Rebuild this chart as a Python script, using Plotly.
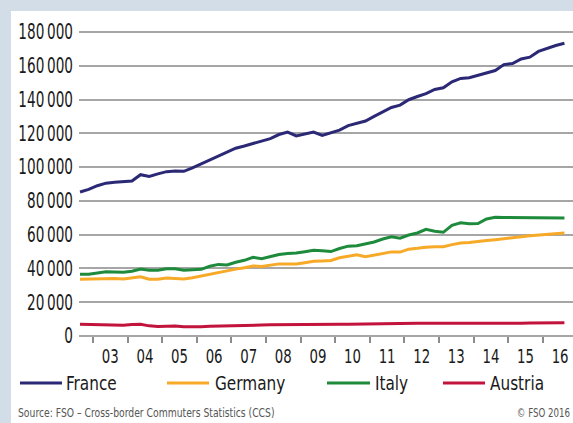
import plotly.graph_objects as go

# Quarterly data, 2002 Q3 .. 2016 Q3
start_year = 2002
start_quarter = 3
france = [85300, 86800, 89000, 90500, 91000, 91300, 91800, 95500, 94500, 96000,
          97300, 97700, 97500, 99500, 101800, 104000, 106200, 108800, 111200, 112500,
          114000, 115600, 116900, 119300, 120700, 118500, 119600, 120700, 118800, 120300,
          121900, 124600, 126000, 127300, 130000, 132800, 135300, 136700, 139900, 141800,
          143500, 146000, 147000, 150500, 152500, 152900, 154300, 155600, 157200, 160700,
          161300, 164000, 165100, 168500, 170400, 172000, 173300]
germany = [33600, 33700, 34000, 34200, 34000, 33700, 34200, 35100, 33600, 33600,
           34300, 34100, 33700, 34500, 35600, 36600, 37700, 38600, 39600, 40400,
           41500, 41200, 41800, 42700, 42700, 42600, 43400, 44200, 44400, 44700,
           46300, 47200, 48100, 46900, 47800, 48500, 49800, 49700, 51400, 51900,
           52600, 52800, 52900, 54100, 55100, 55300, 55700, 56500, 57000, 57700,
           58300, 58800, 59300, 59800, 60200, 60600, 61000]
italy = [36600, 36600, 37300, 38000, 37900, 37800, 38300, 39600, 39000, 38900,
         39800, 39800, 38900, 39000, 39500, 41300, 42400, 42100, 43700, 44800,
         46600, 45800, 47200, 48300, 48900, 49100, 49900, 50700, 50500, 50000,
         51800, 53200, 53500, 54400, 55700, 57400, 58700, 57900, 59800, 61000,
         63200, 62000, 61400, 65500, 67000, 66400, 66600, 69300, 70300, 70200,
         70200, 70100, 70100, 70000, 70000, 69900, 69900]
austria = [6900, 6800, 6700, 6600, 6500, 6300, 6800, 7000, 6000, 5600,
           5700, 5900, 5500, 5300, 5500, 5700, 5900, 6100, 6200, 6300,
           6400, 6500, 6600, 6700, 6700, 6800, 6800, 6900, 6900, 6900,
           7000, 7000, 7100, 7100, 7400, 7600, 7700, 7700, 7700, 7600,
           7600, 7600, 7500, 7500, 7600, 7200, 7300, 7400, 7400, 7500,
           7600, 7600, 7700, 7700, 7800, 7800, 7900]

series_names = ["France", "Germany", "Italy", "Austria"]
series_colors = ["#2b2876", "#f7a928", "#1e8b3c", "#c1133b"]
y_tickvals = [0, 20000, 40000, 60000, 80000, 100000, 120000, 140000, 160000, 180000]
y_ticktext = ["0", "20\u2009000", "40\u2009000", "60\u2009000", "80\u2009000", "100\u2009000",
              "120\u2009000", "140\u2009000", "160\u2009000", "180\u2009000"]
years = list(range(2003, 2017))
year_labels = ["%02d" % (y % 100) for y in years]

# x positions: middle of each quarter, in years
n = len(france)
xs = []
for i in range(n):
    q = start_quarter - 1 + i
    xs.append(start_year + q // 4 + ((q % 4) + 0.5) / 4)

FONT = "DejaVu Sans Condensed, DejaVu Sans, sans-serif"

fig = go.Figure()
for name, vals, col in zip(series_names, [france, germany, italy, austria], series_colors):
    fig.add_trace(go.Scatter(x=xs, y=vals, mode="lines", name=name,
                             line=dict(color=col, width=3), showlegend=False,
                             hoverinfo="skip"))

# plot-area geometry in pixels
W, H = 573, 423
L, R, T, B = 79, 0, 20, 87
pw, ph = W - L - R, H - T - B

def px(X):
    return (X - L) / pw

def py(Y):
    return (H - B - Y) / ph

shapes = [
    dict(type="rect", xref="paper", yref="paper", x0=px(11), x1=px(W + 5),
         y0=py(H + 5), y1=py(11), fillcolor="white", line=dict(width=0), layer="below"),
]
annotations = []
legend_x = [(20, 62, 64), (167, 209, 213), (327, 370, 373), (443, 485, 488)]
for (x0, x1, xt), name, col in zip(legend_x, series_names, series_colors):
    shapes.append(dict(type="line", xref="paper", yref="paper", x0=px(x0), x1=px(x1),
                       y0=py(383), y1=py(383), line=dict(color=col, width=3)))
    annotations.append(dict(xref="paper", yref="paper", x=px(xt), y=py(383), text=name,
                            showarrow=False, xanchor="left", yanchor="middle", align="left",
                            font=dict(family=FONT, size=20, color="#1a1a1a")))
annotations.append(dict(xref="paper", yref="paper", x=px(16), y=py(412),
                        text="Source: FSO \u2013 Cross-border Commuters Statistics (CCS)",
                        showarrow=False, xanchor="left", yanchor="middle", align="left",
                        font=dict(family=FONT, size=13, color="#555555")))
annotations.append(dict(xref="paper", yref="paper", x=px(572), y=py(412),
                        text="\u00a9 FSO 2016", showarrow=False, xanchor="right",
                        yanchor="middle", align="right",
                        font=dict(family=FONT, size=13, color="#555555")))

x0v = 2003 - 14 / 34.6
x1v = 2003 + (W - 93) / 34.6
y1v = 180000 * (336 - T) / (336 - 32)

fig.update_layout(
    width=W, height=H,
    margin=dict(l=L, r=R, t=T, b=B, pad=0, autoexpand=False),
    paper_bgcolor="#d3dde8",
    plot_bgcolor="white",
    shapes=shapes,
    annotations=annotations,
    xaxis=dict(range=[x0v, x1v], tickmode="array", automargin=False,
               tickvals=[y + 0.5 for y in years], ticktext=year_labels,
               ticks="", showgrid=False, zeroline=False, showline=False,
               ticklabelstandoff=6,
               tickfont=dict(family=FONT, size=20, color="#1a1a1a"),
               minor=dict(tickmode="array", tickvals=years, ticks="outside", ticklen=6,
                          tickwidth=1.5, tickcolor="#8c8c8c", showgrid=False)),
    yaxis=dict(range=[0, y1v], tickmode="array", tickvals=y_tickvals, ticktext=y_ticktext,
               automargin=False,
               showgrid=True, gridcolor="#a6a6a6", gridwidth=1.5,
               zeroline=True, zerolinecolor="#a6a6a6", zerolinewidth=1.5,
               ticks="", showline=False, ticklabelstandoff=5,
               tickfont=dict(family=FONT, size=21, color="#1a1a1a")),
)

# remove default page margin and give the texts a condensed look
post = """
document.body.style.margin = '0px';
function sq(t, f, side) {
  if (t.getAttribute('data-sq')) return;
  var b0 = t.getBBox();
  var w = t.getComputedTextLength();
  t.setAttribute('textLength', w * f);
  t.setAttribute('lengthAdjust', 'spacingAndGlyphs');
  t.setAttribute('data-sq', '1');
  var b1 = t.getBBox();
  var dx = 0;
  if (side === 'left') dx = b0.x - b1.x;
  else if (side === 'right') dx = (b0.x + b0.width) - (b1.x + b1.width);
  else dx = (b0.x + b0.width / 2) - (b1.x + b1.width / 2);
  if (Math.abs(dx) > 0.01) {
    var x = parseFloat(t.getAttribute('x') || '0');
    t.setAttribute('x', x + dx);
  }
}
try {
  document.querySelectorAll('.ytick text').forEach(function (t) { sq(t, 0.72, 'right'); });
  document.querySelectorAll('.xtick text').forEach(function (t) { sq(t, 0.74, 'center'); });
  document.querySelectorAll('.annotation-text').forEach(function (t) {
    var s = t.textContent;
    if (s.indexOf('Source') === 0) sq(t, 0.79, 'left');
    else if (s.indexOf('2016') >= 0) sq(t, 0.74, 'right');
    else sq(t, 0.85, 'left');
  });
} catch (e) {}
"""

fig.write_html("out.html", post_script=post, config={"displayModeBar": False})
